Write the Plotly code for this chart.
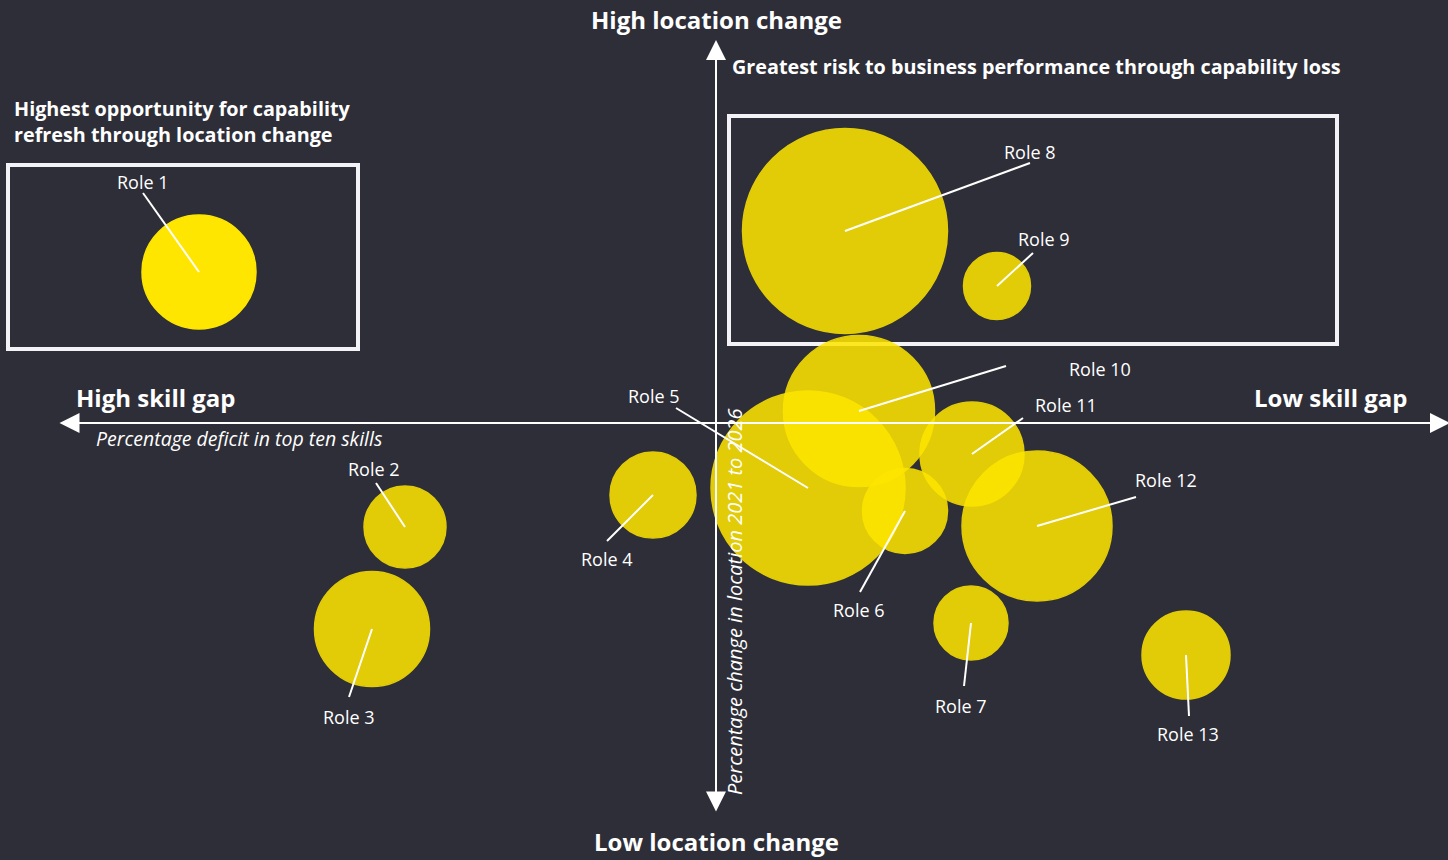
import plotly.graph_objects as go

# Role positions: x = skill gap score (right = lower gap), y = location change score
roles = [f"Role {i}" for i in range(1, 14)]
skill_gap = [-51.7, -31.1, -34.4, -6.3, 9.2, 18.9, 25.5, 12.9, 28.1, 14.3, 25.6, 32.1, 47.0]
location_change = [15.1, -10.4, -20.6, -7.2, -6.5, -8.8, -20.0, 19.2, 13.7, 1.2, -3.1, -10.3, -23.2]
bubble_size = [114, 82, 115, 86, 194, 85, 74, 205, 67, 151, 104, 150, 88]

# Label anchor points and leader-line start points for each role
label_x = [-57.3, -34.2, -36.7, -10.9, -6.2, 14.3, 24.5, 31.4, 32.8, 38.4, 35.0, 45.0, 47.2]
label_y = [24.1, -4.6, -29.4, -13.6, 2.7, -18.7, -28.3, 27.1, 18.4, 5.4, 1.8, -5.7, -31.1]
leader_x = [-57.3, -34.0, -36.7, -10.9, -4.0, 14.4, 24.8, 31.4, 31.7, 29.0, 30.7, 42.0, 47.3]
leader_y = [23.0, -6.0, -27.4, -11.8, 1.5, -16.9, -26.3, 26.0, 17.0, 5.7, 0.5, -7.4, -29.3]

BG = "#2E2E38"
YELLOW = "#FFE600"
FONT = "Open Sans"

X_RANGE = [-71.6, 73.2]
Y_RANGE = [-43.7, 42.3]

fig = go.Figure()

# Bubbles (the highlighted role is fully opaque, the rest slightly translucent)
opacities = [1.0] + [0.86] * (len(roles) - 1)
fig.add_trace(go.Scatter(
    x=skill_gap, y=location_change, mode="markers",
    marker=dict(size=bubble_size, sizemode="diameter", sizeref=1,
                color=YELLOW, opacity=opacities,
                line=dict(color=YELLOW, width=1.5)),
    hoverinfo="skip", showlegend=False,
))

# Leader lines from each bubble centre to its label
lx, ly = [], []
for i in range(len(roles)):
    lx += [leader_x[i], skill_gap[i], None]
    ly += [leader_y[i], location_change[i], None]
fig.add_trace(go.Scatter(x=lx, y=ly, mode="lines",
                         line=dict(color="white", width=2),
                         hoverinfo="skip", showlegend=False))

annotations = []
for i, r in enumerate(roles):
    annotations.append(dict(x=label_x[i], y=label_y[i], text=r, showarrow=False,
                            font=dict(family=FONT, size=18, color="white"),
                            xanchor="center", yanchor="middle"))

# Axis arrows (double-headed)
arrow_style = dict(showarrow=True, text="", arrowhead=2, arrowside="end+start",
                   arrowsize=2.0, arrowwidth=2, arrowcolor="white",
                   axref="x", ayref="y", standoff=0, startstandoff=0)
annotations.append(dict(x=73.4, y=0, ax=-65.8, ay=0, **arrow_style))
annotations.append(dict(x=0, y=38.3, ax=0, ay=-39.0, **arrow_style))

bold = dict(family=FONT, size=24, color="white")
annotations += [
    dict(x=0, y=40.4, text="<b>High location change</b>", showarrow=False,
         font=bold, xanchor="center", yanchor="middle"),
    dict(x=0, y=-41.8, text="<b>Low location change</b>", showarrow=False,
         font=bold, xanchor="center", yanchor="middle"),
    dict(x=-64.2, y=2.6, text="<b>High skill gap</b>", showarrow=False,
         font=bold, xanchor="left", yanchor="middle"),
    dict(x=69.3, y=2.6, text="<b>Low skill gap</b>", showarrow=False,
         font=bold, xanchor="right", yanchor="middle"),
    dict(x=1.4, y=35.7, text="<b>Greatest risk to business performance through capability loss</b>",
         showarrow=False, font=dict(family=FONT, size=19.8, color="white"),
         xanchor="left", yanchor="middle"),
    dict(x=-70.4, y=30.15,
         text="<b>Highest opportunity for capability<br>refresh through location change</b>",
         showarrow=False, font=dict(family=FONT, size=19.8, color="white"),
         xanchor="left", yanchor="middle", align="left"),
    dict(x=-62.2, y=-1.5, text="<i>Percentage deficit in top ten skills</i>",
         showarrow=False, font=dict(family=FONT, size=19.5, color="white"),
         xanchor="left", yanchor="middle"),
    dict(x=1.8, y=-17.9, text="<i>Percentage change in location 2021 to 2026</i>",
         showarrow=False, textangle=-90, font=dict(family=FONT, size=20, color="white"),
         xanchor="center", yanchor="middle"),
]

# Highlight boxes around the two key quadrant groups
box_line = dict(color="#F3F3F7", width=4)
shapes = [
    dict(type="rect", x0=-70.8, x1=-35.8, y0=7.4, y1=25.8, line=box_line, layer="below"),
    dict(type="rect", x0=1.3, x1=62.1, y0=7.9, y1=30.7, line=box_line, layer="below"),
]

fig.update_layout(
    width=1448, height=860, autosize=False,
    margin=dict(l=0, r=0, t=0, b=0),
    paper_bgcolor=BG, plot_bgcolor=BG,
    xaxis=dict(range=X_RANGE, visible=False, fixedrange=True),
    yaxis=dict(range=Y_RANGE, visible=False, fixedrange=True),
    annotations=annotations, shapes=shapes,
    showlegend=False,
)

fig.write_html("out.html", config={"displayModeBar": False})
